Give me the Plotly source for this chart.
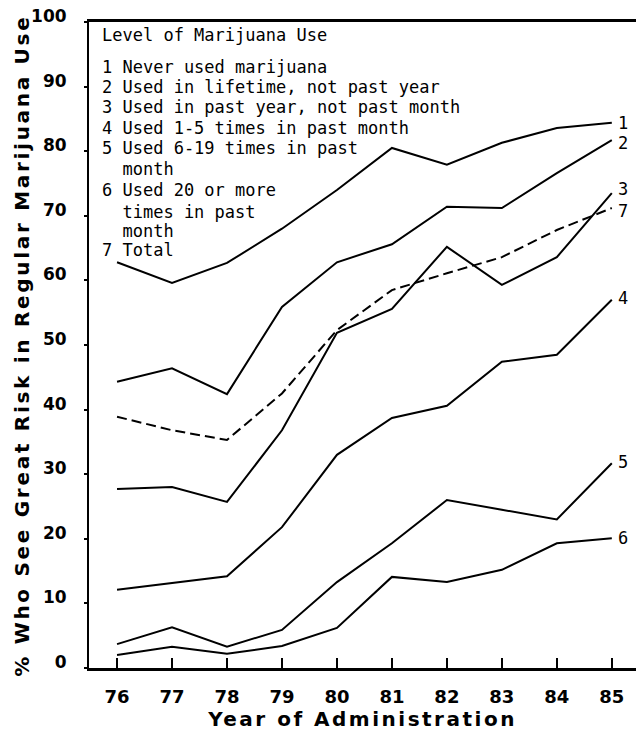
import plotly.graph_objects as go

years = [76, 77, 78, 79, 80, 81, 82, 83, 84, 85]
year_labels = ["76", "77", "78", "79", "80", "81", "82", "83", "84", "85"]

never_used = [62.8, 59.6, 62.7, 68.0, 74.0, 80.5, 77.9, 81.3, 83.6, 84.4]
lifetime_not_year = [44.3, 46.4, 42.4, 55.9, 62.8, 65.6, 71.4, 71.2, 76.6, 81.7]
year_not_month = [27.7, 28.0, 25.7, 36.8, 51.9, 55.6, 65.2, 59.3, 63.6, 73.5]
used_1_5 = [12.1, 13.2, 14.2, 21.8, 33.0, 38.7, 40.6, 47.4, 48.5, 57.0]
used_6_19 = [3.7, 6.3, 3.3, 5.9, 13.3, 19.3, 26.0, 24.5, 23.0, 31.7]
used_20_plus = [2.0, 3.3, 2.2, 3.4, 6.2, 14.1, 13.3, 15.2, 19.3, 20.1]
total = [38.9, 36.8, 35.3, 42.5, 52.3, 58.5, 61.1, 63.6, 67.8, 71.2]

series = [
    ("1", never_used, "solid"),
    ("2", lifetime_not_year, "solid"),
    ("3", year_not_month, "solid"),
    ("4", used_1_5, "solid"),
    ("5", used_6_19, "solid"),
    ("6", used_20_plus, "solid"),
    ("7", total, "10px,5px"),
]

legend_title = "Level of Marijuana Use"
legend_lines = [
    "1 Never used marijuana",
    "2 Used in lifetime, not past year",
    "3 Used in past year, not past month",
    "4 Used 1-5 times in past month",
    "5 Used 6-19 times in past",
    "  month",
    "6 Used 20 or more",
    "  times in past",
    "  month",
    "7 Total",
]

x_title = "Year of Administration"
y_title = "% Who See Great Risk in Regular Marijuana Use"

W, H = 637, 731
ML, MR, MT, MB = 89, 1, 22, 63
PW = W - ML - MR
PH = H - MT - MB

mono = "DejaVu Sans Mono"
boldfont = "DejaVu Sans"

fig = go.Figure()
for name, vals, dash in series:
    fig.add_trace(go.Scatter(
        x=years, y=vals, mode="lines", name=name,
        line=dict(color="black", width=2, dash=dash),
        showlegend=False, hoverinfo="skip",
    ))

annotations = []
end_shift = {"1": 0, "2": -3, "3": 4, "7": -3, "4": 2, "5": 1, "6": 0}
for name, vals, dash in series:
    annotations.append(dict(
        x=years[-1], y=vals[-1], xref="x", yref="y",
        text=name, showarrow=False, xanchor="left", yanchor="middle",
        xshift=4, yshift=end_shift[name],
        font=dict(family=mono, size=17, color="black"),
    ))

def py2paper(py):
    return (H - MB - py) / PH

def px2paper(px):
    return (px - ML) / PW

legend_y = [66.7, 86.7, 107, 128, 148, 169, 190, 212, 231, 250]
annotations.append(dict(
    x=px2paper(100), y=py2paper(35), xref="paper", yref="paper",
    text=legend_title, showarrow=False, xanchor="left", yanchor="middle",
    font=dict(family=mono, size=17, color="black"),
))
for txt, yy in zip(legend_lines, legend_y):
    annotations.append(dict(
        x=px2paper(100), y=py2paper(yy), xref="paper", yref="paper",
        text=txt.replace(" ", "&nbsp;") if txt.startswith(" ") else txt,
        showarrow=False, xanchor="left", yanchor="middle",
        font=dict(family=mono, size=17, color="black"),
    ))

annotations.append(dict(
    x=px2paper(22), y=py2paper(346), xref="paper", yref="paper",
    text=y_title, showarrow=False, textangle=-90,
    xanchor="center", yanchor="middle",
    font=dict(family=boldfont, size=20, color="black", weight="bold"),
))

fig.update_layout(
    width=W, height=H,
    margin=dict(l=ML, r=MR, t=MT, b=MB, pad=0, autoexpand=False),
    paper_bgcolor="white", plot_bgcolor="white",
    annotations=annotations,
    hovermode=False,
    xaxis=dict(
        range=[75.49, 85.44],
        tickmode="array", tickvals=years, ticktext=year_labels,
        ticks="inside", ticklen=10, tickwidth=1.5, tickcolor="black",
        showline=True, linewidth=2.5, linecolor="black", mirror=True,
        showgrid=False, zeroline=False,
        ticklabelstandoff=11,
        tickfont=dict(family=boldfont, size=18, color="black", weight="bold"),
        title=dict(text=x_title, standoff=6,
                   font=dict(family=boldfont, size=20, color="black", weight="bold")),
    ),
    yaxis=dict(
        range=[0, 100],
        tickmode="array", tickvals=list(range(0, 101, 10)),
        ticktext=[str(v) for v in range(0, 101, 10)],
        ticks="outside", ticklen=3, tickwidth=1.5, tickcolor="black",
        showline=True, linewidth=2, linecolor="black", mirror=False,
        showgrid=False, zeroline=False,
        ticklabelshift=-6, ticklabelstandoff=14,
        tickfont=dict(family=boldfont, size=17, color="black", weight="bold"),
    ),
)

post = """
document.body.style.margin='0';
document.querySelectorAll('text').forEach(function(t){
  if (t.textContent === %r) { t.style.letterSpacing = '2.5px'; }
  if (t.textContent === %r) { t.style.letterSpacing = '2.7px'; }
});
""" % (x_title, y_title)

fig.write_html("out.html", post_script=post, config={"displayModeBar": False})
